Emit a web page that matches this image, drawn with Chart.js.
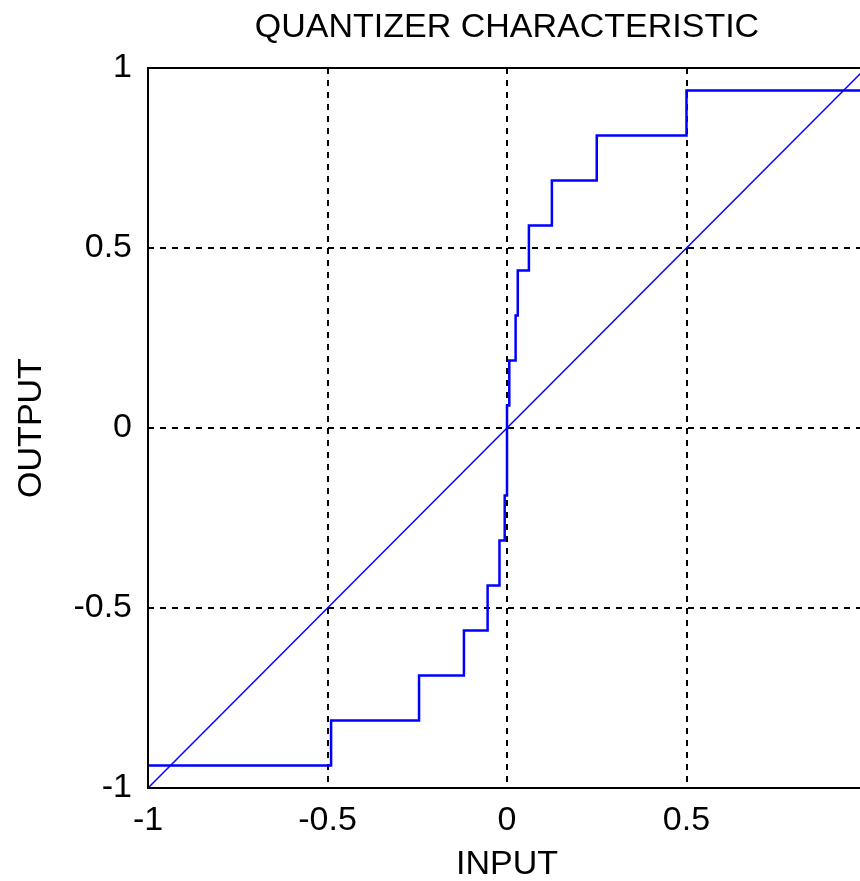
<!DOCTYPE html>
<html>
<head>
<meta charset="utf-8">
<title>Quantizer characteristic</title>
<script src="https://cdn.jsdelivr.net/npm/chart.js@4/dist/chart.umd.min.js"></script>
<style>
  html, body { margin: 0; padding: 0; background: #fff; overflow: hidden; }
  canvas { display: block; }
</style>
</head>
<body>
<canvas id="quantChart" width="900" height="881"></canvas>
<script>
// staircase: each level is held from its x up to the next x
const stairX = [-1, -0.49, -0.245, -0.12, -0.054, -0.021, -0.0064, 0, 0.0064, 0.024, 0.030, 0.061, 0.125, 0.25, 0.5, 1];
const stairY = [-0.9375, -0.8125, -0.6875, -0.5625, -0.4375, -0.3125, -0.1875, 0.0625, 0.1875, 0.3125, 0.4375, 0.5625, 0.6875, 0.8125, 0.9375, 0.9375];

// ideal (unquantized) line
const lineX = [-1, 1];
const lineY = [-1, 1];

const tickValues = [-1, -0.5, 0, 0.5, 1];

const FONT = "'Liberation Sans', Arial, Helvetica, sans-serif";

const toPoints = (xs, ys) => xs.map((x, i) => ({ x: x, y: ys[i] }));

// box round the plot area
const frame = {
  id: 'frame',
  afterDatasetsDraw(chart) {
    const { ctx, chartArea: a } = chart;
    ctx.save();
    ctx.strokeStyle = '#000';
    ctx.lineWidth = 2;
    ctx.strokeRect(a.left, a.top, a.right - a.left, a.bottom - a.top);
    ctx.restore();
  }
};

const gridColor = (c) => (Math.abs(c.tick.value) === 1 ? 'rgba(0,0,0,0)' : '#000');
const setTicks = (s) => { s.ticks = tickValues.map(v => ({ value: v })); };

const ctx = document.getElementById('quantChart').getContext('2d');
const chart = new Chart(ctx, {
  type: 'line',
  data: {
    datasets: [{
      label: 'quantized',
      data: toPoints(stairX, stairY),
      stepped: 'before',
      borderColor: '#0000ff',
      borderWidth: 2.5,
      pointRadius: 0,
      fill: false
    }, {
      label: 'ideal',
      data: toPoints(lineX, lineY),
      borderColor: '#0000ff',
      borderWidth: 1.5,
      pointRadius: 0,
      fill: false
    }]
  },
  options: {
    responsive: false,
    animation: false,
    layout: { padding: { left: 0, right: 34, top: 0, bottom: 0 } },
    plugins: {
      legend: { display: false },
      tooltip: { enabled: false },
      title: { display: false }
    },
    scales: {
      x: {
        type: 'linear',
        min: -1,
        max: 1,
        afterBuildTicks: setTicks,
        afterFit: (s) => { s.height = 93; },
        grid: { color: gridColor, lineWidth: 2, drawTicks: false },
        border: { display: false, dash: [6, 6] },
        ticks: {
          color: '#000',
          padding: 12,
          maxRotation: 0,
          font: { family: FONT, size: 34 },
          // the label at 1 falls outside the window in the original
          callback: (v) => (v === 1 ? '' : String(v))
        },
        title: {
          display: true,
          text: 'INPUT',
          color: '#000',
          font: { family: FONT, size: 34, lineHeight: 1.2 },
          padding: { top: 0, bottom: -4 }
        }
      },
      // top axis only carries the chart title, centred over the plot
      xTop: {
        type: 'linear',
        position: 'top',
        min: -1,
        max: 1,
        afterFit: (s) => { s.height = 68; },
        grid: { display: false, drawTicks: false },
        border: { display: false },
        ticks: { display: false },
        title: {
          display: true,
          text: 'QUANTIZER CHARACTERISTIC',
          color: '#000',
          font: { family: FONT, size: 34, lineHeight: 1.2 },
          padding: { top: 7, bottom: 0 }
        }
      },
      y: {
        type: 'linear',
        min: -1,
        max: 1,
        afterBuildTicks: setTicks,
        afterFit: (s) => { s.width = 148; },
        grid: { color: gridColor, lineWidth: 2, drawTicks: false },
        border: { display: false, dash: [6, 6] },
        ticks: { color: '#000', padding: 16, font: { family: FONT, size: 34 }, callback: (v) => String(v) },
        title: {
          display: true,
          text: 'OUTPUT',
          color: '#000',
          font: { family: FONT, size: 34, lineHeight: 1.2 },
          padding: { top: 11, bottom: 0 }
        }
      }
    }
  },
  plugins: [frame]
});
</script>
</body>
</html>
